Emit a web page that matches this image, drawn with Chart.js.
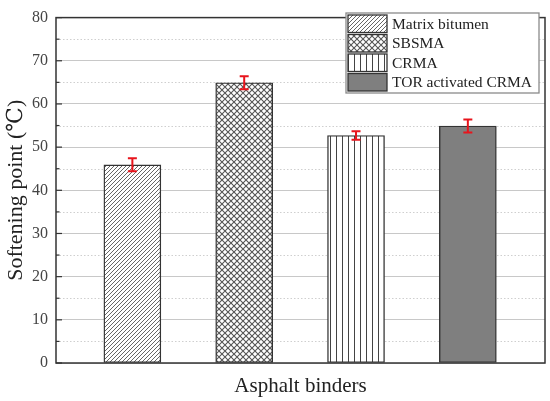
<!DOCTYPE html>
<html>
<head>
<meta charset="utf-8">
<script src="https://cdn.jsdelivr.net/npm/chart.js@4/dist/chart.umd.min.js"></script>
<style>
html,body{margin:0;padding:0;background:#fff;}
#wrap{width:550px;height:401px;}
</style>
</head>
<body>
<div id="wrap"><canvas id="c" width="550" height="401"></canvas></div>
<script>
const categories = ['Matrix bitumen', 'SBSMA', 'CRMA', 'TOR activated CRMA'];
const positions = [1, 2, 3, 4];
const values = [45.9, 64.9, 52.7, 54.9];
const errors = [1.5, 1.5, 1.0, 1.5];
const yTicks = [0, 10, 20, 30, 40, 50, 60, 70, 80];
const yMinorTicks = [5, 15, 25, 35, 45, 55, 65, 75];

const SERIF = '"Liberation Serif", "DejaVu Serif", serif';

function makePattern(kind) {
  const c = document.createElement('canvas');
  const ctx = c.getContext('2d');
  if (kind === 'hatch') {
    c.width = 4; c.height = 4;
    ctx.fillStyle = '#fff'; ctx.fillRect(0, 0, 4, 4);
    ctx.strokeStyle = '#666'; ctx.lineWidth = 1;
    ctx.beginPath();
    ctx.moveTo(-1, 5); ctx.lineTo(5, -1);
    ctx.moveTo(-1, 1); ctx.lineTo(1, -1);
    ctx.moveTo(3, 5); ctx.lineTo(5, 3);
    ctx.stroke();
  } else if (kind === 'cross') {
    c.width = 6; c.height = 6;
    ctx.fillStyle = '#fff'; ctx.fillRect(0, 0, 6, 6);
    ctx.strokeStyle = '#555'; ctx.lineWidth = 1.1;
    ctx.beginPath();
    ctx.moveTo(0, 0); ctx.lineTo(6, 6);
    ctx.moveTo(6, 0); ctx.lineTo(0, 6);
    ctx.stroke();
  } else if (kind === 'vert') {
    c.width = 6; c.height = 6;
    ctx.fillStyle = '#fff'; ctx.fillRect(0, 0, 6, 6);
    ctx.strokeStyle = '#444'; ctx.lineWidth = 1;
    ctx.beginPath();
    ctx.moveTo(0.5, 0); ctx.lineTo(0.5, 6);
    ctx.stroke();
  }
  return document.getElementById('c').getContext('2d').createPattern(c, 'repeat');
}

const fills = [makePattern('hatch'), makePattern('cross'), makePattern('vert'), '#7f7f7f'];

const datasets = categories.map((name, i) => ({
  label: name,
  data: [{x: positions[i], y: values[i]}],
  backgroundColor: fills[i],
  borderColor: '#333',
  borderWidth: 1.4,
  borderSkipped: false,
  barThickness: 57,
  grouped: false
}));

const extras = {
  id: 'extras',
  beforeDatasetsDraw(chart) {
    const {ctx, chartArea: a, scales: {y}} = chart;
    ctx.save();
    ctx.strokeStyle = '#cfcfcf';
    ctx.lineWidth = 1;
    ctx.setLineDash([1.5, 2]);
    yMinorTicks.forEach(v => {
      const py = Math.round(y.getPixelForValue(v)) + 0.5;
      ctx.beginPath(); ctx.moveTo(a.left, py); ctx.lineTo(a.right, py); ctx.stroke();
    });
    ctx.restore();
  },
  afterDraw(chart) {
    const {ctx, chartArea: a, scales: {x, y}} = chart;
    ctx.save();
    // error bars
    ctx.strokeStyle = '#e8141c';
    ctx.lineWidth = 2;
    positions.forEach((p, i) => {
      const px = x.getPixelForValue(p);
      const top = y.getPixelForValue(values[i] + errors[i]);
      const bot = y.getPixelForValue(values[i] - errors[i]);
      ctx.beginPath();
      ctx.moveTo(px, top); ctx.lineTo(px, bot);
      ctx.moveTo(px - 4.5, top); ctx.lineTo(px + 4.5, top);
      ctx.moveTo(px - 4.5, bot); ctx.lineTo(px + 4.5, bot);
      ctx.stroke();
    });
    // frame
    ctx.strokeStyle = '#333';
    ctx.lineWidth = 1.5;
    ctx.strokeRect(a.left, a.top, a.right - a.left, a.bottom - a.top);
    // inner ticks on left axis
    ctx.lineWidth = 1.2;
    yTicks.forEach(v => {
      const py = y.getPixelForValue(v);
      ctx.beginPath(); ctx.moveTo(a.left, py); ctx.lineTo(a.left + 6, py); ctx.stroke();
    });
    yMinorTicks.forEach(v => {
      const py = y.getPixelForValue(v);
      ctx.beginPath(); ctx.moveTo(a.left, py); ctx.lineTo(a.left + 3.5, py); ctx.stroke();
    });
    // legend
    const lx = 346, ly = 13, lw = 193, lh = 80;
    ctx.fillStyle = '#fff';
    ctx.fillRect(lx, ly, lw, lh);
    ctx.strokeStyle = '#8a8a8a';
    ctx.lineWidth = 1.3;
    ctx.strokeRect(lx, ly, lw, lh);
    const rowH = 19.5;
    ctx.font = '15.5px ' + SERIF;
    ctx.textBaseline = 'middle';
    ctx.textAlign = 'left';
    categories.forEach((name, i) => {
      const sy = ly + 2 + i * rowH;
      ctx.fillStyle = fills[i];
      ctx.fillRect(lx + 2, sy, 39, rowH - 2);
      ctx.strokeStyle = '#333';
      ctx.lineWidth = 1.3;
      ctx.strokeRect(lx + 2, sy, 39, rowH - 2);
      ctx.fillStyle = '#222';
      ctx.fillText(name, lx + 46, sy + (rowH - 2) / 2 + 1);
    });
    ctx.restore();
  }
};

new Chart(document.getElementById('c'), {
  type: 'bar',
  data: {datasets},
  options: {
    responsive: false,
    animation: false,
    devicePixelRatio: 1,
    layout: {padding: {top: 9, right: 5, left: 0, bottom: 0}},
    plugins: {legend: {display: false}, tooltip: {enabled: false}},
    scales: {
      x: {
        type: 'linear',
        offset: false,
        min: 0.317,
        max: 4.69,
        grid: {display: false, drawTicks: false},
        border: {display: false},
        ticks: {display: false},
        title: {display: true, text: 'Asphalt binders', font: {family: SERIF, size: 21}, color: '#222', padding: {top: 0, bottom: 2}},
        afterFit(s) { s.height = 38; }
      },
      y: {
        min: 0,
        max: 80,
        afterBuildTicks(s) { s.ticks = yTicks.map(v => ({value: v})); },
        grid: {color: '#c8c8c8', lineWidth: 1, drawTicks: false},
        border: {display: false},
        ticks: {font: {family: SERIF, size: 16}, color: '#444', padding: 8},
        title: {display: true, text: 'Softening point (℃)', font: {family: SERIF, size: 22}, color: '#222', padding: {top: 3, bottom: 0}},
        afterFit(s) { s.width = 56; }
      }
    }
  },
  plugins: [extras]
});
</script>
</body>
</html>
